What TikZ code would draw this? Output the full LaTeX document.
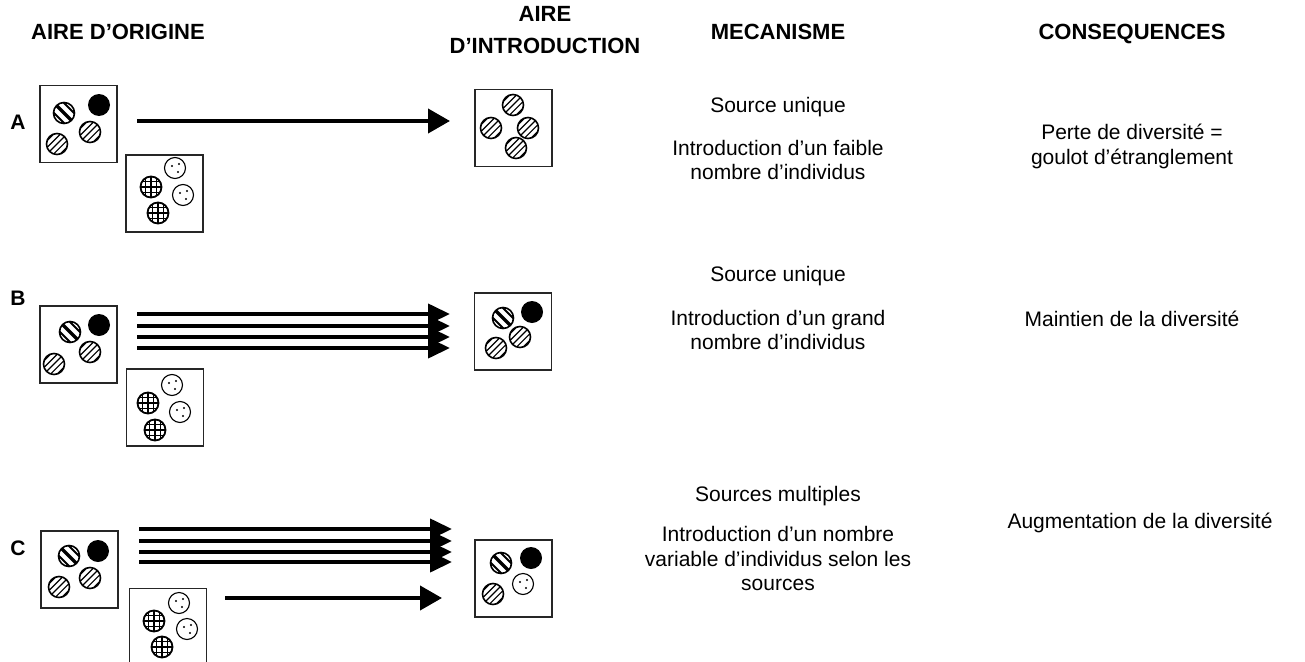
\documentclass[tikz,border=0pt]{standalone}
\usepackage{fontspec}
\setmainfont{Liberation Sans}
\usetikzlibrary{arrows.meta}
\tikzset{
  popbox/.style={draw=black!85, line width=1.6pt, minimum size=77pt, inner sep=0pt},
  hdr/.style={font=\fontsize{22}{26}\selectfont\bfseries, inner sep=0pt, anchor=base},
  txt/.style={font=\fontsize{21}{25}\selectfont, inner sep=0pt, anchor=base},
  lbl/.style={font=\fontsize{21}{25}\selectfont\bfseries, inner sep=0pt, anchor=base},
  bigarrow/.style={line width=4pt, -{Triangle[length=22pt,width=24pt]}},
  multiarrow/.style={line width=4pt, -{Triangle[length=22pt,width=20pt]}},
  striped/.pic={
    \begin{scope}
      \clip (0,0) circle[radius=10.5pt];
      \draw[line width=3.5pt] (-12,-12)--(12,12);
      \draw[line width=2pt] (-7,-17)--(17,7);
      \draw[line width=2pt] (-17,-7)--(7,17);
    \end{scope}
    \draw[line width=1.6pt] (0,0) circle[radius=10.5pt];
  },
  hatched/.pic={
    \begin{scope}
      \clip (0,0) circle[radius=10.5pt];
      \foreach \k in {-2,...,2}
        \draw[line width=1.2pt] ({\k*3.3-12},{\k*3.3+12}) -- ({\k*3.3+12},{\k*3.3-12});
    \end{scope}
    \draw[line width=1.6pt] (0,0) circle[radius=10.5pt];
  },
  blackdot/.pic={
    \fill (0,0) circle[radius=11pt];
  },
  grid/.pic={
    \begin{scope}
      \clip (0,0) circle[radius=10.5pt];
      \foreach \k in {-5.25,0,5.25} {
        \draw[line width=1.2pt] (\k,-12)--(\k,12);
        \draw[line width=1.2pt] (-12,\k)--(12,\k);
      }
    \end{scope}
    \draw[line width=1.8pt] (0,0) circle[radius=10.5pt];
  },
  dotted/.pic={
    \draw[line width=1.1pt] (0,0) circle[radius=10.5pt];
    \fill (-3,-2) circle[radius=1.1pt];
    \fill (4,-4) circle[radius=1.1pt];
    \fill (3,4) circle[radius=1.1pt];
  },
}
\begin{document}
\begin{tikzpicture}[x=1pt,y=-1pt]
\useasboundingbox (0,0) rectangle (1305,661);
\clip (0,0) rectangle (1305,661);

% headers
\node[hdr] (h1) at (118,40) {AIRE D’ORIGINE};
\node[hdr] (h2a) at (545,22) {AIRE};
\node[hdr] (h2b) at (545,54) {D’INTRODUCTION};
\node[hdr] (h3) at (778,40) {MECANISME};
\node[hdr] (h4) at (1132,40) {CONSEQUENCES};

% row labels
\node[lbl] (la) at (18,129) {A};
\node[lbl] (lb) at (18,305) {B};
\node[lbl] (lc) at (18,555) {C};

% ---------- Row A ----------
\node[popbox] (A1) at (78.5,124) {};
\node[popbox] (A2) at (164.5,193.5) {};
\node[popbox] (AR) at (513.5,128) {};
\pic at (64,113) {striped};
\pic at (99,105) {blackdot};
\pic at (90,132) {hatched};
\pic at (57,144) {hatched};
\pic at (175,168) {dotted};
\pic at (151,187) {grid};
\pic at (183,195) {dotted};
\pic at (158,213) {grid};
\pic at (513,105) {hatched};
\pic at (491,128) {hatched};
\pic at (528,128) {hatched};
\pic at (516,148) {hatched};
\coordinate (As) at (137,121);
\coordinate (Ae) at (450,121);
\draw[bigarrow] (As) -- (Ae);

\node[txt] (ma1) at (778,112) {Source unique};
\node[txt] (ma2) at (778,155) {Introduction d’un faible};
\node[txt] (ma3) at (778,179) {nombre d’individus};
\node[txt] (ca1) at (1132,139) {Perte de diversité =};
\node[txt] (ca2) at (1132,164) {goulot d’étranglement};

% ---------- Row B ----------
\node[popbox] (B1) at (78.5,344.5) {};
\node[popbox] (B2) at (165,407.5) {};
\node[popbox] (BR) at (513,331.5) {};
\pic at (70,332) {striped};
\pic at (99,325) {blackdot};
\pic at (90,352) {hatched};
\pic at (54,364) {hatched};
\pic at (172,385) {dotted};
\pic at (148,403) {grid};
\pic at (180,412) {dotted};
\pic at (155,430) {grid};
\pic at (503,318) {striped};
\pic at (532,312) {blackdot};
\pic at (520,337) {hatched};
\pic at (496,348) {hatched};
\foreach \y [count=\i] in {314,326,337,348} {
  \coordinate (Bs\i) at (137,\y);
  \coordinate (Be\i) at (450,\y);
  \draw[multiarrow] (Bs\i) -- (Be\i);
}
\node[txt] (mb1) at (778,281) {Source unique};
\node[txt] (mb2) at (778,325) {Introduction d’un grand};
\node[txt] (mb3) at (778,349) {nombre d’individus};
\node[txt] (cb1) at (1132,326) {Maintien de la diversité};

% ---------- Row C ----------
\node[popbox] (C1) at (79.5,569.5) {};
\node[popbox] (C2) at (168,627) {};
\node[popbox] (CR) at (513.5,578.5) {};
\pic at (69,556) {striped};
\pic at (98,551) {blackdot};
\pic at (90,578) {hatched};
\pic at (59,587) {hatched};
\pic at (179,603) {dotted};
\pic at (154,621) {grid};
\pic at (187,629) {dotted};
\pic at (162,647) {grid};
\pic at (501,563) {striped};
\pic at (531,558) {blackdot};
\pic at (523,584) {dotted};
\pic at (493,594) {hatched};
\foreach \y [count=\i] in {529,541,552,562} {
  \coordinate (Cs\i) at (139,\y);
  \coordinate (Ce\i) at (452,\y);
  \draw[multiarrow] (Cs\i) -- (Ce\i);
}
\coordinate (Cs5) at (225,598);
\coordinate (Ce5) at (442,598);
\draw[bigarrow] (Cs5) -- (Ce5);

\node[txt] (mc1) at (778,501) {Sources multiples};
\node[txt] (mc2) at (778,541) {Introduction d’un nombre};
\node[txt] (mc3) at (778,566) {variable d’individus selon les};
\node[txt] (mc4) at (778,590) {sources};
\node[txt] (cc1) at (1140,528) {Augmentation de la diversité};
\end{tikzpicture}
\end{document}
